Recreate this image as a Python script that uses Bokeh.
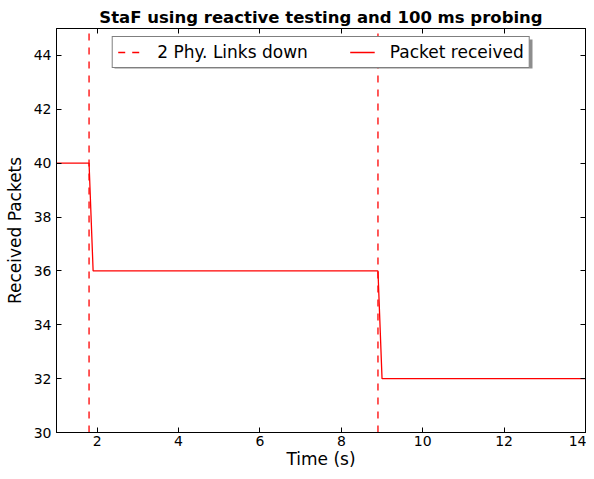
from bokeh.plotting import figure
from bokeh.models import Range1d, LinearAxis, Legend, LegendItem, FixedTicker, CustomJSTickFormatter, BoxAnnotation
from bokeh.embed import file_html
from bokeh.resources import INLINE

# data
time_s = [1.0, 1.8, 1.9, 8.9, 9.0, 14.0]
packets = [40, 40, 36, 36, 32, 32]
link_down_times = [1.8, 8.9]
x_ticks = [2, 4, 6, 8, 10, 12, 14]
y_ticks = [30, 32, 34, 36, 38, 40, 42, 44]
x_lo, x_hi = 1, 14
y_lo, y_hi = 30, 45

FONT = "DejaVu Sans"

p = figure(width=586, height=471, output_backend="svg", toolbar_location=None,
           x_range=Range1d(x_lo, x_hi), y_range=Range1d(y_lo, y_hi),
           title="StaF using reactive testing and 100 ms probing",
           min_border_left=56, min_border_right=1, min_border_top=28, min_border_bottom=0)
p.title.text_font = FONT
p.title.text_font_size = "16.5px"
p.title.text_font_style = "bold"
p.title.align = "center"
p.title.text_color = "black"
p.title.standoff = 4

p.grid.visible = False
p.outline_line_color = "black"
p.background_fill_color = "white"
p.border_fill_color = "white"

def style_axis(ax, labels=True):
    ax.axis_line_color = "black"
    ax.major_tick_in = 5
    ax.major_tick_out = 0
    ax.minor_tick_in = 0
    ax.minor_tick_out = 0
    ax.major_tick_line_color = "black"
    ax.major_label_text_font = FONT
    ax.major_label_text_font_size = "14px"
    ax.major_label_text_color = "black"
    ax.axis_label_text_font = FONT
    ax.axis_label_text_font_size = "17px"
    ax.axis_label_text_font_style = "normal"
    ax.axis_label_text_color = "black"
    if not labels:
        ax.formatter = CustomJSTickFormatter(code="return ''")
        ax.major_label_standoff = 0
        ax.axis_label_standoff = 0

p.xaxis.ticker = FixedTicker(ticks=x_ticks)
p.yaxis.ticker = FixedTicker(ticks=y_ticks)
p.xaxis.axis_label = "Time (s)"
p.yaxis.axis_label = "Received Packets"
style_axis(p.xaxis[0])
style_axis(p.yaxis[0])
p.xaxis.major_label_standoff = 3
p.yaxis.major_label_standoff = 5
p.xaxis.axis_label_standoff = 0
p.yaxis.axis_label_standoff = 6

top = LinearAxis(ticker=FixedTicker(ticks=x_ticks))
style_axis(top, labels=False)
right = LinearAxis(ticker=FixedTicker(ticks=y_ticks))
style_axis(right, labels=False)
p.add_layout(top, "above")
p.add_layout(right, "right")

vl = p.multi_line(xs=[[t, t] for t in link_down_times],
                  ys=[[y_lo, y_hi] for t in link_down_times],
                  line_color="#ff0000", line_width=1.3, line_dash="7 7")
ln = p.line(time_s, packets, line_color="#ff0000", line_width=1.3)

# legend drop shadow (decoration, canvas pixels)
shadow = BoxAnnotation(left=114, right=532, top=39, bottom=68,
                       left_units="canvas", right_units="canvas",
                       top_units="canvas", bottom_units="canvas",
                       fill_color="#707070", fill_alpha=0.8, line_alpha=0,
                       level="overlay")
p.add_layout(shadow)

legend = Legend(items=[LegendItem(label="2 Phy. Links down", renderers=[vl]),
                       LegendItem(label="Packet received", renderers=[ln])],
                location="top_center", orientation="horizontal")
legend.label_text_font = FONT
legend.label_text_font_size = "17px"
legend.label_text_color = "black"
legend.border_line_color = "black"
legend.border_line_width = 1
legend.glyph_width = 25
legend.label_standoff = 15
legend.spacing = 42
legend.padding = 5
legend.margin = 8
legend.background_fill_alpha = 1.0
legend.level = "overlay"
p.add_layout(legend, "center")

with open("out.html", "w") as f:
    f.write(file_html(p, INLINE))
